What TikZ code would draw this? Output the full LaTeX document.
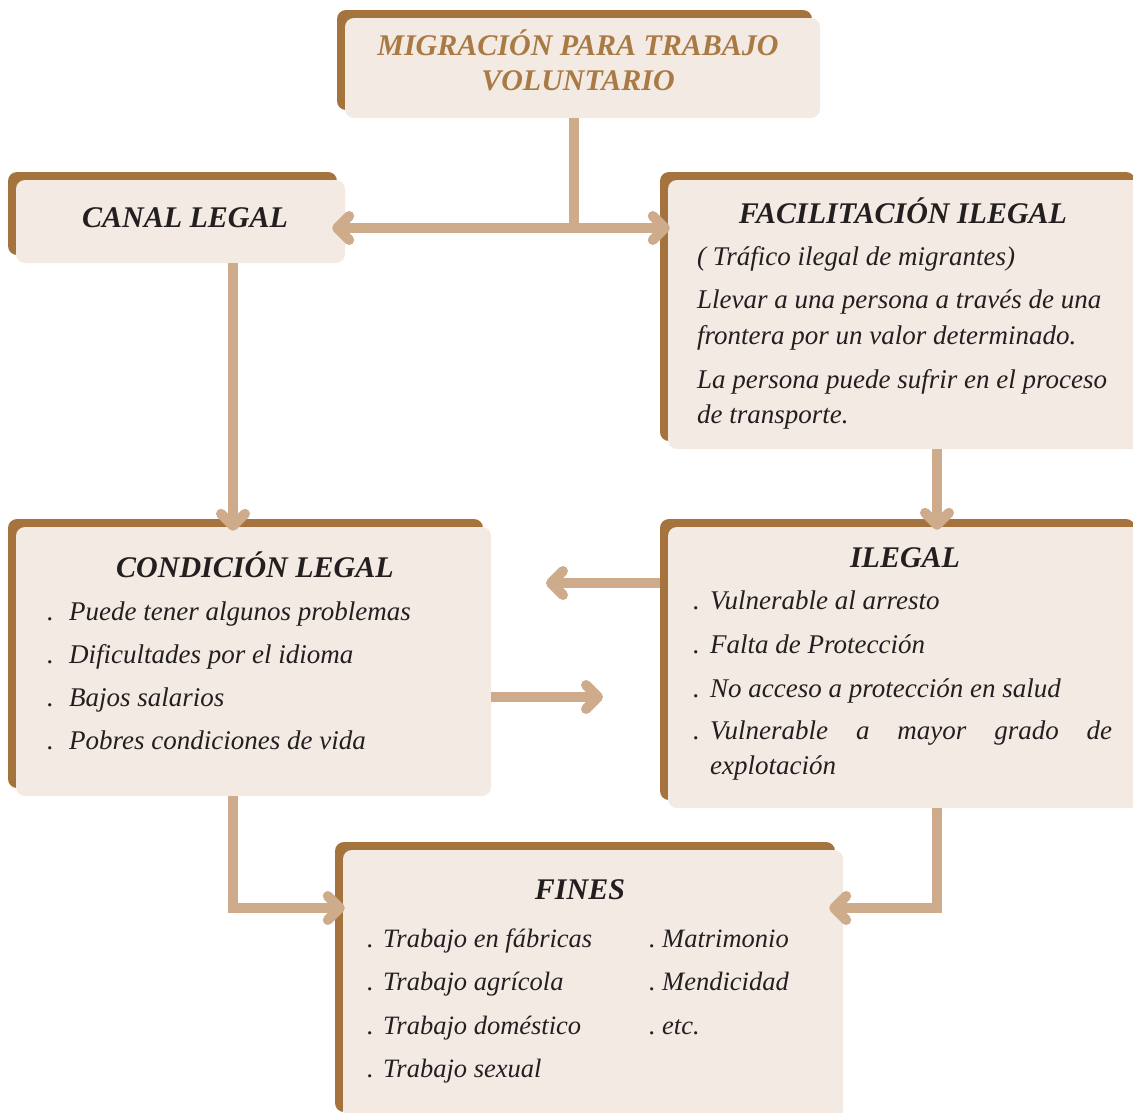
\documentclass[tikz,border=0pt]{standalone}
\usepackage{fontspec}
\setmainfont{Liberation Serif}
\usetikzlibrary{arrows.meta,shadows}
\definecolor{ombre}{HTML}{A5733E}
\definecolor{fond}{HTML}{F3EAE3}
\definecolor{sable}{HTML}{CEAC8B}
\definecolor{brun}{HTML}{A97A44}
\definecolor{encre}{HTML}{231F20}
\newcommand{\puce}[1]{\makebox[#1][l]{.}}

\begin{document}
\begin{tikzpicture}[x=1pt,y=-1pt]
	\tikzstyle{boite}=[rectangle,rounded corners=9pt,fill=fond,inner sep=0pt,general shadow={fill=ombre,shadow xshift=-8pt,shadow yshift=8pt}]
	\tikzstyle{titre}=[inner sep=0pt,anchor=base,font=\fontsize{30}{34}\selectfont\bfseries\itshape,text=encre]
	\tikzstyle{texte}=[inner sep=0pt,anchor=base west,font=\fontsize{27}{32}\selectfont\itshape,text=encre]
	\tikzstyle{lien}=[draw=sable,line width=10pt,>={Straight Barb[length=12pt,width=24pt,round]}]
	\useasboundingbox (0,0) rectangle (1133,1112);
	% boites
	\node[boite,minimum width=475pt,minimum height=100pt] (migr) at (582.5,68){};
	\node[boite,minimum width=329pt,minimum height=83pt] (canal) at (180.5,221.5){};
	\node[boite,minimum width=475pt,minimum height=269pt] (facil) at (905.5,314.5){};
	\node[boite,minimum width=475pt,minimum height=269pt] (cond) at (253.5,661.5){};
	\node[boite,minimum width=475pt,minimum height=281pt] (ilegal) at (905.5,667.5){};
	\node[boite,minimum width=500pt,minimum height=270pt] (fines) at (593,985){};
	% liens
	\coordinate (split) at (574,228);
	\coordinate (gx) at (233,0);
	\coordinate (dx) at (937,0);
	\coordinate (hy) at (0,908);
	\coordinate (flg) at (546,583);
	\coordinate (fld) at (603,697);
	\draw[lien] (migr.south -| split) -- (split);
	\draw[lien,<->,shorten <=-13pt,shorten >=-2pt] (split -| canal.east) -- (split -| facil.west);
	\draw[lien,->,shorten >=-4pt] (canal.south -| gx) -- (cond.north -| gx);
	\draw[lien,->,shorten >=-3pt] (facil.south -| dx) -- (ilegal.north -| dx);
	\draw[lien,->,shorten <=8pt] (flg -| ilegal.west) -- (flg);
	\draw[lien,->] (fld -| cond.east) -- (fld);
	\draw[lien,->,shorten >=-2pt] (cond.south -| gx) |- (hy -| fines.west);
	\draw[lien,->,shorten >=-14pt] (ilegal.south -| dx) |- (hy -| fines.east);
	% textes
	\node[titre,text=brun] (migr-1) at (578,55) {MIGRACIÓN PARA TRABAJO};
	\node[titre,text=brun] (migr-2) at (578,90) {VOLUNTARIO};
	\node[titre] (canal-t) at (185,227) {CANAL LEGAL};
	\node[titre] (facil-t) at (903,223) {FACILITACIÓN ILEGAL};
	\node[texte] (facil-1) at (697,265) {( Tráfico ilegal de migrantes)};
	\node[texte] (facil-2) at (697,308) {Llevar a una persona a través de una};
	\node[texte] (facil-3) at (697,344) {frontera por un valor determinado.};
	\node[texte] (facil-4) at (697,388) {La persona puede sufrir en el proceso};
	\node[texte] (facil-5) at (697,423) {de transporte.};
	\node[titre] (cond-t) at (255,577) {CONDICIÓN LEGAL};
	\foreach \t [count=\i] in {Puede tener algunos problemas,Dificultades por el idioma,Bajos salarios,Pobres condiciones de vida}
		\node[texte] (cond-\i) at (47,{577+43*\i}) {\puce{22pt}\t};
	\node[titre] (ilegal-t) at (905,567) {ILEGAL};
	\node[texte] (ilegal-1) at (693,609) {\puce{17pt}Vulnerable al arresto};
	\node[texte] (ilegal-2) at (693,653) {\puce{17pt}Falta de Protección};
	\node[texte] (ilegal-3) at (693,697) {\puce{17pt}No acceso a protección en salud};
	\node[texte] (ilegal-4) at (693,739) {\puce{17pt}\makebox[402pt][s]{Vulnerable a mayor grado de}};
	\node[texte] (ilegal-5) at (710,774) {explotación};
	\node[titre] (fines-t) at (580,899) {FINES};
	\foreach \t [count=\i] in {Trabajo en fábricas,Trabajo agrícola,Trabajo doméstico,Trabajo sexual}
		\node[texte,font=\fontsize{26.5}{32}\selectfont\itshape] (fines-g\i) at (367,{903.5+43.5*\i}) {\puce{16pt}\t};
	\foreach \t [count=\i] in {Matrimonio,Mendicidad,etc.}
		\node[texte,font=\fontsize{26.5}{32}\selectfont\itshape] (fines-d\i) at (649,{903.5+43.5*\i}) {\puce{13pt}\t};
\end{tikzpicture}
\end{document}
